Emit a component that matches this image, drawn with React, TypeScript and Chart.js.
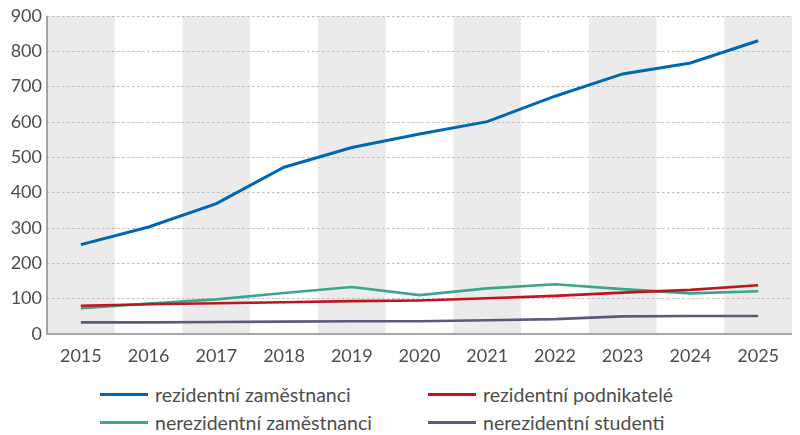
import React, { useEffect, useRef } from "react";
import { Chart, registerables } from "chart.js";

Chart.register(...registerables);

const years = ["2015", "2016", "2017", "2018", "2019", "2020", "2021", "2022", "2023", "2024", "2025"];
const rezidentniZamestnanci = [253, 303, 369, 472, 528, 566, 601, 673, 736, 767, 830];
const rezidentniPodnikatele = [80, 84, 87, 90, 93, 95, 101, 108, 117, 125, 138];
const nerezidentniZamestnanci = [73, 86, 98, 116, 133, 110, 129, 141, 127, 115, 121];
const nerezidentniStudenti = [33, 33, 34, 35, 36, 36, 39, 42, 50, 51, 51];
const yTicks = [0, 100, 200, 300, 400, 500, 600, 700, 800, 900];

const seriesNames = [
  "rezidentní zaměstnanci",
  "rezidentní podnikatelé",
  "nerezidentní zaměstnanci",
  "nerezidentní studenti",
];
const seriesColors = ["#0068b0", "#c0141e", "#3aa68c", "#5f587e"];
const seriesData = [rezidentniZamestnanci, rezidentniPodnikatele, nerezidentniZamestnanci, nerezidentniStudenti];

const FONT = "Lato, 'Open Sans', sans-serif";
const TEXT = "#4d4d4d";

const bandPlugin = {
  id: "bands",
  beforeDraw(chart: any) {
    const { ctx, chartArea, scales } = chart;
    const x = scales.x;
    const n = years.length;
    const step = (chartArea.right - chartArea.left) / n;
    ctx.save();
    ctx.fillStyle = "#ebebeb";
    for (let i = 0; i < n; i += 2) {
      const c = x.getPixelForValue(i);
      ctx.fillRect(c - step / 2, chartArea.top, step, chartArea.bottom - chartArea.top);
    }
    ctx.restore();
  },
};

const axisLinePlugin = {
  id: "axisLines",
  afterDatasetsDraw(chart: any) {
    const { ctx, chartArea } = chart;
    ctx.save();
    ctx.strokeStyle = "#8c8c8c";
    ctx.lineWidth = 1.5;
    ctx.setLineDash([]);
    ctx.beginPath();
    ctx.moveTo(chartArea.left, chartArea.top);
    ctx.lineTo(chartArea.left, chartArea.bottom);
    ctx.lineTo(chartArea.right, chartArea.bottom);
    ctx.stroke();
    ctx.restore();
  },
};

export default function App() {
  const ref = useRef<HTMLCanvasElement | null>(null);

  useEffect(() => {
    document.body.style.margin = "0";
    if (!ref.current) return;
    const chart = new Chart(ref.current, {
      type: "line",
      data: {
        labels: years,
        datasets: seriesData.map((d, i) => ({
          label: seriesNames[i],
          data: d,
          borderColor: seriesColors[i],
          backgroundColor: seriesColors[i],
          borderWidth: i === 0 ? 3 : 2.6,
          pointRadius: 0,
          tension: 0,
          fill: false,
        })),
      },
      options: {
        animation: false,
        responsive: false,
        maintainAspectRatio: false,
        layout: { padding: { top: 16, right: 8, left: 0, bottom: 0 } },
        plugins: {
          legend: { display: false },
          tooltip: { enabled: false },
        },
        scales: {
          x: {
            type: "category",
            offset: true,
            grid: { display: false, drawTicks: false },
            border: { display: false },
            ticks: {
              color: TEXT,
              font: { family: FONT, size: 18 },
              padding: 11,
              maxRotation: 0,
            },
            afterFit(scale: any) {
              scale.height = 36;
            },
          },
          y: {
            min: 0,
            max: 900,
            afterBuildTicks(scale: any) {
              scale.ticks = yTicks.map((v) => ({ value: v }));
            },
            grid: {
              color: (ctx: any) => (ctx.tick && ctx.tick.value === 0 ? "rgba(0,0,0,0)" : "#bcbcbc"),
              lineWidth: 1,
              drawTicks: false,
            },
            border: { display: false, dash: [2.5, 2.5] },
            ticks: {
              color: TEXT,
              font: { family: FONT, size: 18 },
              padding: 5,
            },
            afterFit(scale: any) {
              scale.width = 47;
            },
          },
        },
      },
      plugins: [bandPlugin, axisLinePlugin],
    } as any);
    return () => chart.destroy();
  }, []);

  const legendOrder = [
    [0, 1],
    [2, 3],
  ];

  return (
    <div style={{ position: "relative", width: 800, height: 435, background: "#fff", fontFamily: FONT }}>
      <canvas ref={ref} width={800} height={370} style={{ display: "block", width: 800, height: 370 }} />
      {legendOrder.map((row, r) =>
        row.map((idx, c) => (
          <div
            key={idx}
            style={{
              position: "absolute",
              left: c === 0 ? 100 : 428,
              top: 394 + r * 28 - 13,
              height: 26,
              display: "flex",
              alignItems: "center",
              whiteSpace: "nowrap",
            }}
          >
            <div style={{ width: 48, height: 3, background: seriesColors[idx], marginRight: 7 }} />
            <span style={{ fontSize: 19.5, color: TEXT, lineHeight: "26px", marginTop: 2 }}>{seriesNames[idx]}</span>
          </div>
        ))
      )}
    </div>
  );
}
